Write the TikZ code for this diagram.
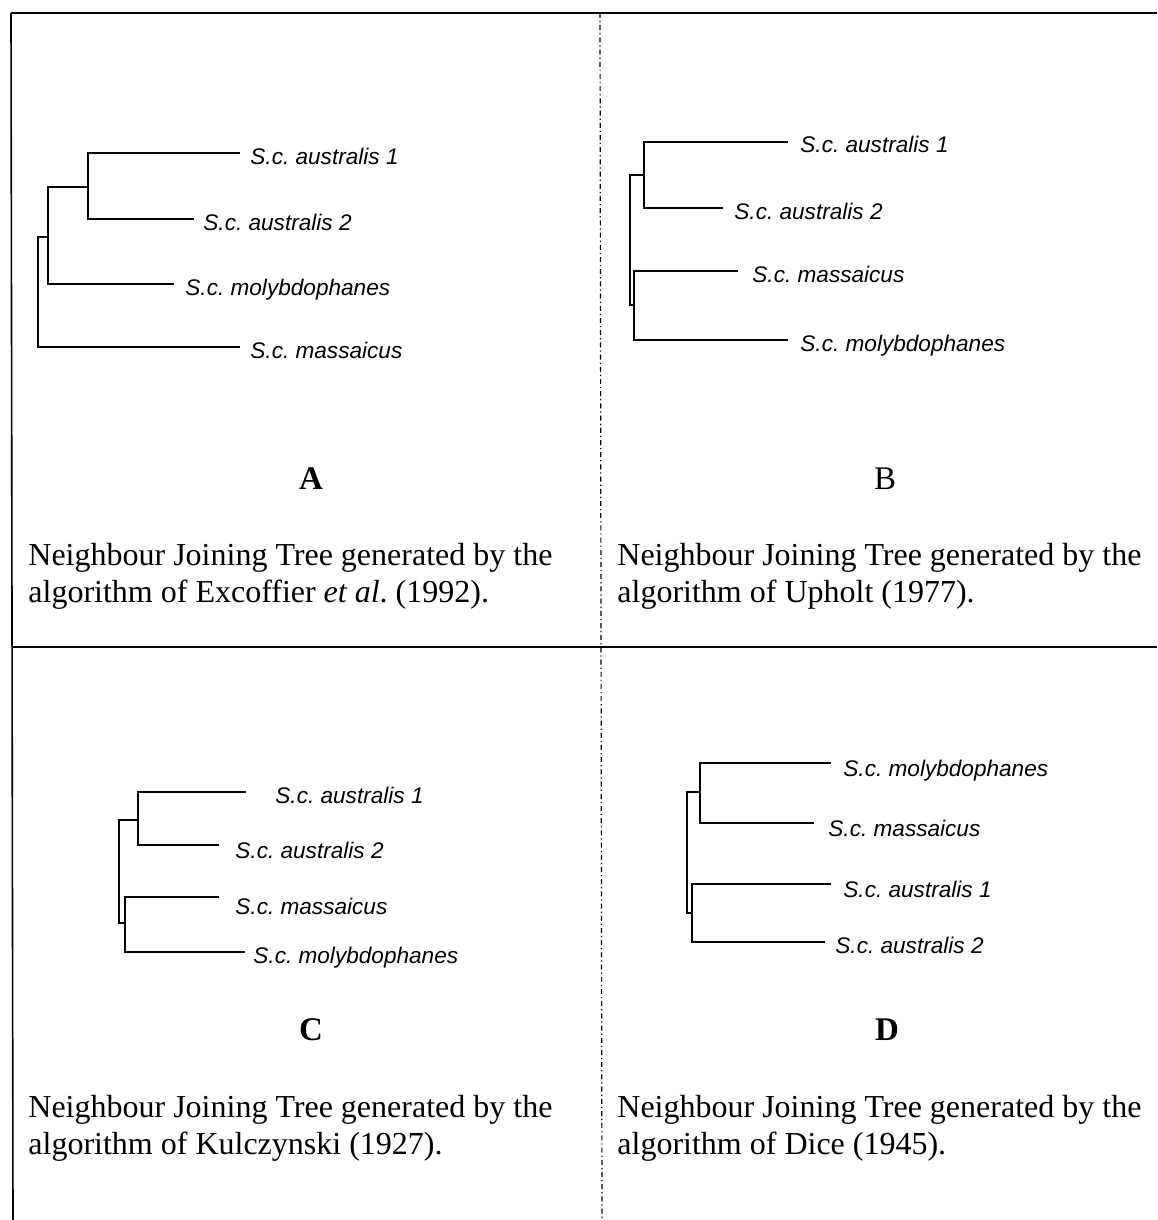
\documentclass[tikz,border=0pt]{standalone}
\usepackage{fontspec}
\setmainfont{Liberation Serif}
\newfontfamily\treefont{Liberation Sans}
\usetikzlibrary{calc}
\frenchspacing
\newcommand{\captfont}{\fontsize{16}{18.5}\selectfont}

\begin{document}
\begin{tikzpicture}[x=0.5pt,y=-0.5pt,
   br/.style={line width=0.9pt,line cap=rect},
   rule/.style={line width=0.8pt},
   midrule/.style={line width=0.6pt,dash pattern=on 2.5pt off 1.5pt on 0.6pt off 1.5pt},
   leaf/.style={anchor=base west,inner sep=0pt,font=\treefont\itshape\fontsize{11.3}{13}\selectfont},
   capt/.style={anchor=base west,align=left,inner sep=0pt,font=\captfont},
   plate/.style={anchor=base,inner sep=0pt,font=\fontsize{16.5}{18}\selectfont}]
  \useasboundingbox (0,0) rectangle (1157,1220);
  % table rules
  \draw[rule] (11,13) -- (1157,13);
  \draw[rule] (11,13) -- (13,1220);
  \draw[rule] (12,647) -- (1157,647);
  \draw[midrule] (600,13) -- (602,1220);

  % A
  \coordinate (A0) at (38,237);
  \coordinate (A1) at (48,237);
  \coordinate (A2) at (88,187);
  \coordinate (Aau1) at (239,153);
  \coordinate (Aau2) at (193,219);
  \coordinate (Amol) at (173,284);
  \coordinate (Amas) at (239,347);
  \node[leaf] (lAau1) at (250,164) {S.c. australis 1};
  \node[leaf] (lAau2) at (203,230) {S.c. australis 2};
  \node[leaf] (lAmol) at (185,295) {S.c. molybdophanes};
  \node[leaf] (lAmas) at (250,358) {S.c. massaicus};
  \draw[br] (Aau1) -| (A2) |- (Aau2);
  \draw[br] (A2) -| (A1) |- (Amol);
  \draw[br] (A1) -- (A0) |- (Amas);
  \node[plate,font=\bfseries\fontsize{16.5}{18}\selectfont] (pA) at (311,489) {A};
  \node[capt] (cA) at (28,602) {Neighbour Joining Tree generated by the\\algorithm of Excoffier \emph{et al}. (1992).};

  % B
  \coordinate (B0) at (630,305);
  \coordinate (B2) at (644,175);
  \coordinate (B3) at (634,305);
  \coordinate (Bau1) at (787,142);
  \coordinate (Bau2) at (722,208);
  \coordinate (Bmas) at (737,271);
  \coordinate (Bmol) at (787,340);
  \node[leaf] (lBau1) at (800,153) {S.c. australis 1};
  \node[leaf] (lBau2) at (734,219) {S.c. australis 2};
  \node[leaf] (lBmas) at (752,282) {S.c. massaicus};
  \node[leaf] (lBmol) at (800,351) {S.c. molybdophanes};
  \draw[br] (Bau1) -| (B2) |- (Bau2);
  \draw[br] (Bmas) -| (B3) |- (Bmol);
  \draw[br] (B2) -| (B0) -- (B3);
  \node[plate] (pB) at (885,489) {B};
  \node[capt] (cB) at (617,602) {Neighbour Joining Tree generated by the\\algorithm of Upholt (1977).};

  % C
  \coordinate (C0) at (119,923);
  \coordinate (C2) at (138,820);
  \coordinate (C3) at (125,923);
  \coordinate (Cau1) at (245,792);
  \coordinate (Cau2) at (218,845);
  \coordinate (Cmas) at (218,897);
  \coordinate (Cmol) at (244,952);
  \node[leaf] (lCau1) at (275,803) {S.c. australis 1};
  \node[leaf] (lCau2) at (235,858) {S.c. australis 2};
  \node[leaf] (lCmas) at (235,914) {S.c. massaicus};
  \node[leaf] (lCmol) at (253,963) {S.c. molybdophanes};
  \draw[br] (Cau1) -| (C2) |- (Cau2);
  \draw[br] (Cmas) -| (C3) |- (Cmol);
  \draw[br] (C2) -| (C0) -- (C3);
  \node[plate,font=\bfseries\fontsize{16.5}{18}\selectfont] (pC) at (311,1040) {C};
  \node[capt] (cC) at (28,1154) {Neighbour Joining Tree generated by the\\algorithm of Kulczynski (1927).};

  % D
  \coordinate (D0) at (687,913);
  \coordinate (D2) at (700,792);
  \coordinate (D3) at (692,913);
  \coordinate (Dmol) at (830,763);
  \coordinate (Dmas) at (813,823);
  \coordinate (Dau1) at (830,884);
  \coordinate (Dau2) at (824,942);
  \node[leaf] (lDmol) at (843,776) {S.c. molybdophanes};
  \node[leaf] (lDmas) at (828,836) {S.c. massaicus};
  \node[leaf] (lDau1) at (843,897) {S.c. australis 1};
  \node[leaf] (lDau2) at (835,953) {S.c. australis 2};
  \draw[br] (Dmol) -| (D2) |- (Dmas);
  \draw[br] (Dau1) -| (D3) |- (Dau2);
  \draw[br] (D2) -| (D0) -- (D3);
  \node[plate,font=\bfseries\fontsize{16.5}{18}\selectfont] (pD) at (887,1040) {D};
  \node[capt] (cD) at (617,1154) {Neighbour Joining Tree generated by the\\algorithm of Dice (1945).};
\end{tikzpicture}
\end{document}
